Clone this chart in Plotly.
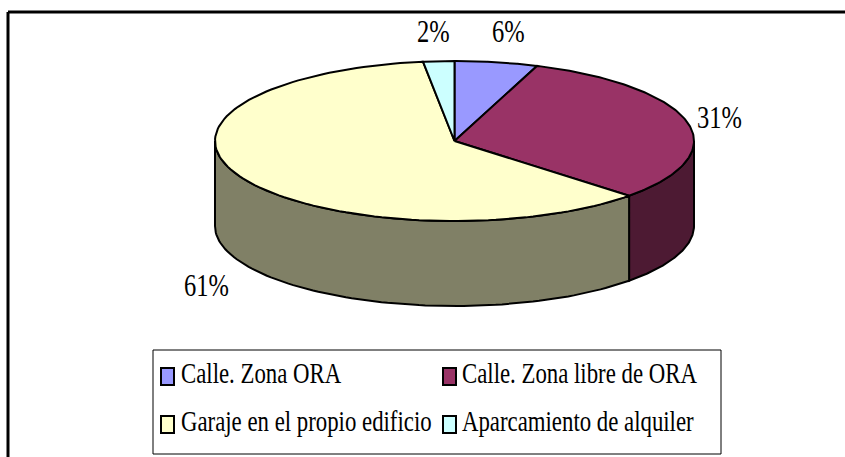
import numpy as np
import plotly.graph_objects as go

categories = ["Calle. Zona ORA", "Calle. Zona libre de ORA", "Garaje en el propio edificio", "Aparcamiento de alquiler"]
values = [5.6, 31.4, 60.9, 2.1]
top_colors = ["#9999FF", "#993366", "#FFFFCC", "#CCFFFF"]
side_colors = ["#4D4D80", "#4D1A33", "#808066", "#668080"]

CX, CY, RX, RY, DEPTH = 454.5, 141, 239.5, 80, 85
FONT = "Liberation Serif"

def px(a, dz=0):
    a = np.radians(a)
    return CX + RX * np.sin(a), CY - RY * np.cos(a) + dz

fig = go.Figure()
edges = np.cumsum([0] + values) * 3.6

def poly(x, y, color, width=2):
    fig.add_trace(go.Scatter(x=list(x), y=list(y), mode="lines", fill="toself", fillcolor=color,
                             line=dict(color="black", width=width), hoverinfo="skip", showlegend=False))

# side walls: only the front half of the rim (90..270 degrees) is visible
for i in range(len(values)):
    a0, a1 = max(edges[i], 90), min(edges[i + 1], 270)
    if a1 <= a0:
        continue
    t = np.linspace(a0, a1, 90)
    x, y = px(t)
    xb, yb = px(t[::-1], DEPTH)
    poly(np.r_[x, xb, x[0]], np.r_[y, yb, y[0]], side_colors[i])

# top faces
for i in range(len(values)):
    t = np.linspace(edges[i], edges[i + 1], 120)
    x, y = px(t)
    poly(np.r_[CX, x, CX], np.r_[CY, y, CY], top_colors[i])

# percentage labels
label_pos = [(508, 32), (719.5, 118), (206.5, 286), (433, 32)]
annotations = []
for v, (lx, ly) in zip(values, label_pos):
    annotations.append(dict(x=lx, y=ly, text=f"{round(v)}%", showarrow=False,
                            font=dict(family=FONT, size=24.5, color="black")))

shapes = [
    dict(type="rect", x0=153, y0=350, x1=721, y1=454, line=dict(color="black", width=1)),
    dict(type="line", x0=8, y0=12, x1=845, y1=12, line=dict(color="black", width=3)),
    dict(type="line", x0=8, y0=12, x1=8, y1=457, line=dict(color="black", width=3)),
]

# legend
legend_pos = [(161, 375), (443, 375), (161, 423), (443, 423)]
text_gap = [18, 17, 18, 17]
for name, c, (lx, ly), g in zip(categories, top_colors, legend_pos, text_gap):
    shapes.append(dict(type="rect", x0=lx, x1=lx + 13, y0=ly - 7, y1=ly + 10, fillcolor=c,
                       line=dict(color="black", width=2)))
    annotations.append(dict(x=lx + g, y=ly, text=name, showarrow=False, xanchor="left",
                            font=dict(family=FONT, size=22.8, color="black")))

fig.update_layout(
    width=845, height=457, margin=dict(l=0, r=0, t=0, b=0),
    paper_bgcolor="white", plot_bgcolor="white", showlegend=False,
    xaxis=dict(range=[0, 845], visible=False, fixedrange=True),
    yaxis=dict(range=[457, 0], visible=False, fixedrange=True),
    annotations=annotations, shapes=shapes,
)
post = """
document.body.style.margin='0';document.documentElement.style.overflow='hidden';
document.querySelectorAll('.annotation-text').forEach(function(t){
  var b=t.getBBox(), c=b.y+b.height/2;
  t.setAttribute('transform','translate(0,'+(c-2)+') scale(1,1.3) translate(0,'+(-c)+')');
});
"""
fig.write_html("out.html", config={"displayModeBar": False}, post_script=post)
